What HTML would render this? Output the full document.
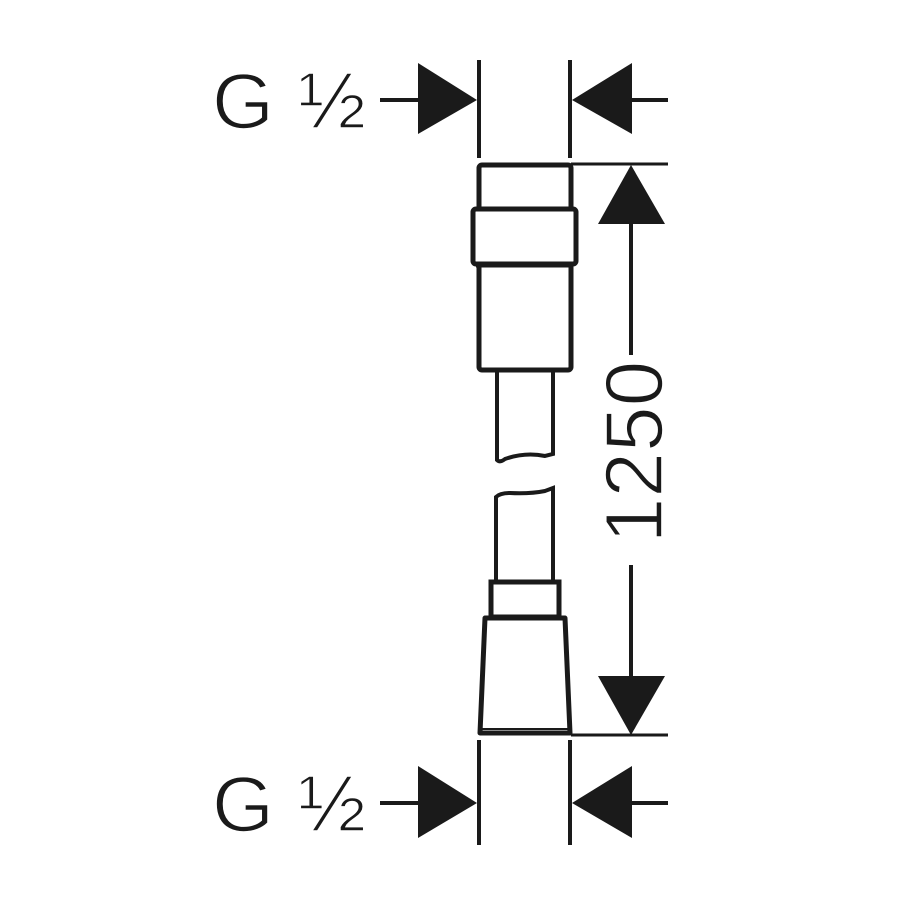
<!DOCTYPE html>
<html><head><style>html,body{margin:0;padding:0;background:#fff}svg{display:block}</style></head>
<body>
<svg width="900" height="900" viewBox="0 0 900 900" xmlns="http://www.w3.org/2000/svg">
<rect width="900" height="900" fill="#fff"/>
<g font-family="Liberation Sans, DejaVu Sans, sans-serif" fill="#1a1a1a" stroke="#fff" stroke-width="1.6">
<text x="212" y="128" font-size="78" textLength="62" lengthAdjust="spacingAndGlyphs">G</text>
<text x="298" y="128" font-size="80" textLength="68" lengthAdjust="spacingAndGlyphs">½</text>
<text x="212" y="831" font-size="78" textLength="62" lengthAdjust="spacingAndGlyphs">G</text>
<text x="298" y="831" font-size="80" textLength="68" lengthAdjust="spacingAndGlyphs">½</text>
<text transform="translate(662,452) rotate(-90)" font-size="82" text-anchor="middle">1250</text>
</g>
<g stroke="#1a1a1a" stroke-width="4" fill="none">
<line x1="479" y1="60" x2="479" y2="158"/>
<line x1="570" y1="60" x2="570" y2="158"/>
<line x1="380" y1="100" x2="420" y2="100"/>
<line x1="630" y1="100" x2="668" y2="100"/>
<line x1="479" y1="740" x2="479" y2="845"/>
<line x1="570" y1="740" x2="570" y2="845"/>
<line x1="380" y1="803" x2="420" y2="803"/>
<line x1="630" y1="803" x2="668" y2="803"/>
<line x1="571" y1="164" x2="668" y2="164" stroke-width="3"/>
<line x1="571" y1="735" x2="668" y2="735" stroke-width="3"/>
<line x1="631" y1="222" x2="631" y2="355"/>
<line x1="631" y1="565" x2="631" y2="678"/>
<rect x="479" y="165" width="92" height="205" rx="3" stroke-width="5"/>
<rect x="473" y="209" width="103" height="55" rx="3" fill="#fff" stroke-width="5"/>
<line x1="476" y1="266" x2="573" y2="266" stroke-width="3"/>
<path d="M497 372 L497 460 Q500 463 505 459 Q525 452 545 456 L553 454 L553 372" stroke-width="4"/>
<path d="M496 582 L496 497 Q500 493 510 493 Q530 494 545 491 L553 488 L553 582" stroke-width="4"/>
<rect x="491" y="582" width="68" height="35" fill="#fff" stroke-width="5"/>
<path d="M485 618 L565 618 L570 733 L480 733 Z" fill="#fff" stroke-width="5" stroke-linejoin="round"/>
<line x1="482" y1="729" x2="568" y2="729" stroke-width="2"/>
</g>
<g fill="#1a1a1a">
<polygon points="418,63 477,100 418,134"/>
<polygon points="632,63 572,100 632,134"/>
<polygon points="418,766 477,803 418,838"/>
<polygon points="632,766 572,803 632,838"/>
<polygon points="631,165 598,224 665,224"/>
<polygon points="631,735 598,676 665,676"/>
</g>
</svg>
</body></html>
